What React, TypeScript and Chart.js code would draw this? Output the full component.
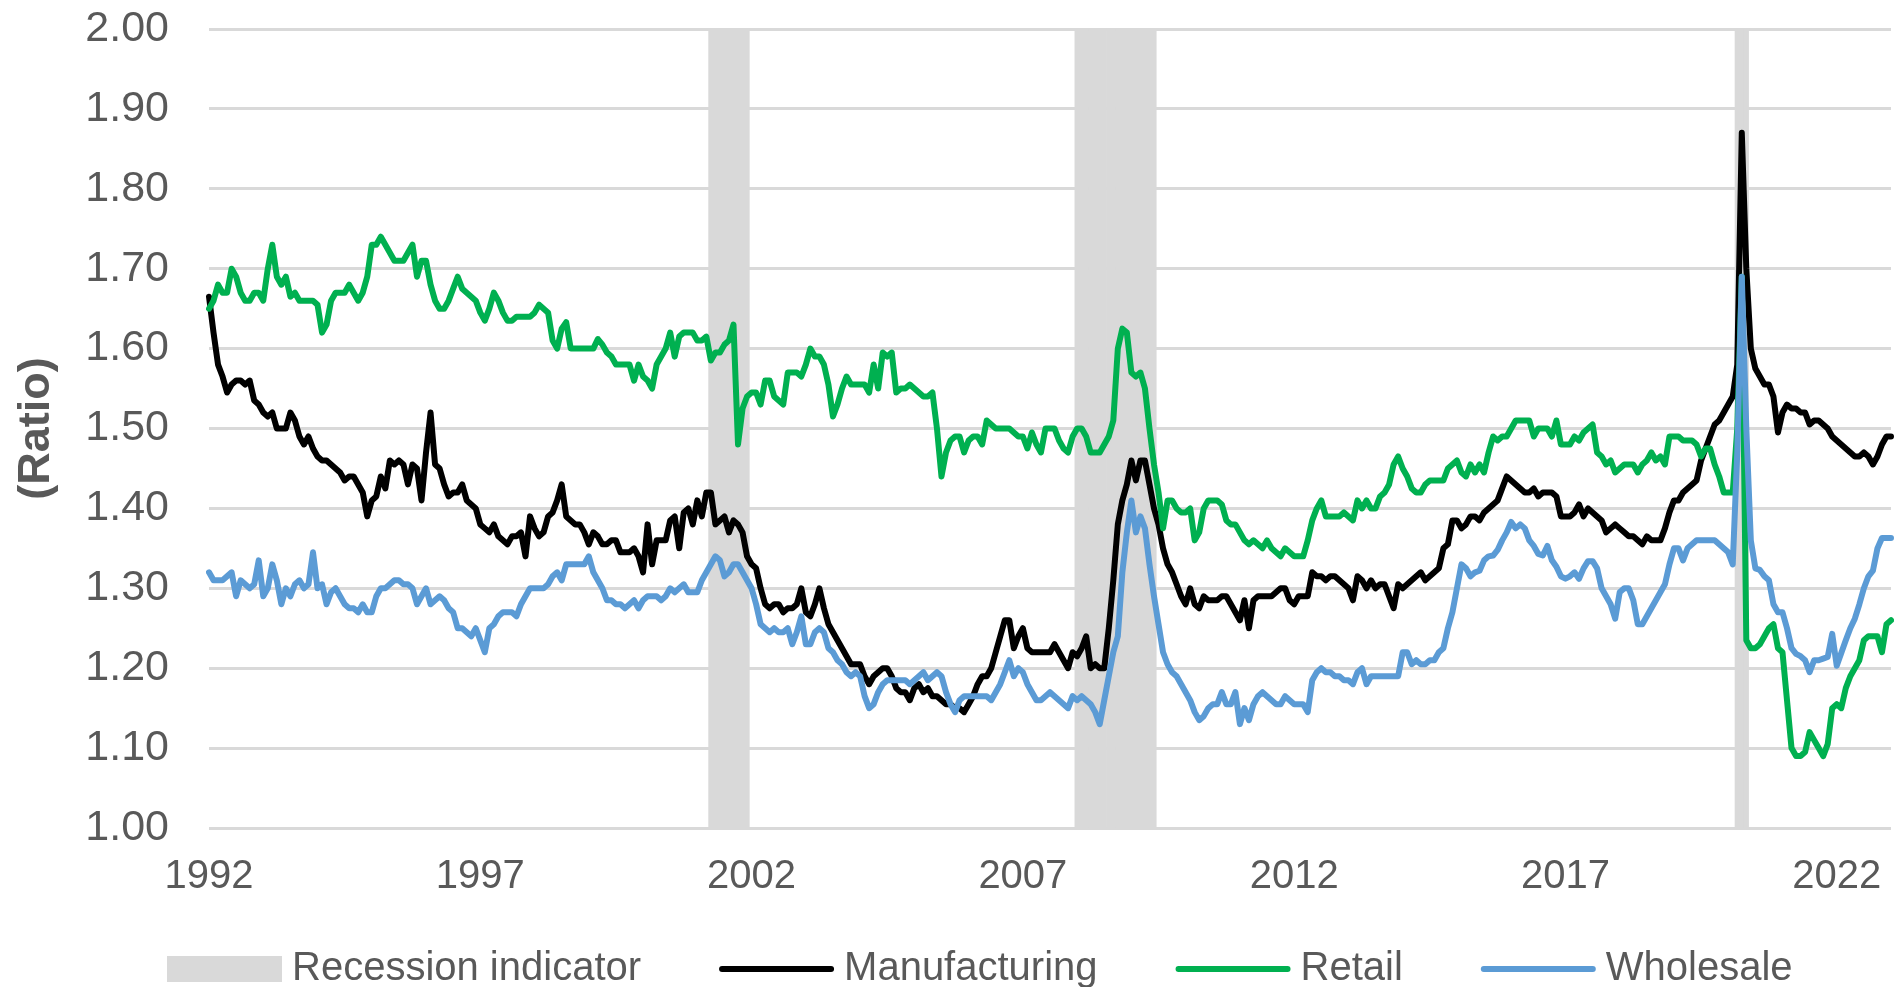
import React, { useEffect, useRef } from 'react';
import { Chart, registerables } from 'chart.js';

Chart.register(...registerables);

const FONT = '"Liberation Sans", Arial, Helvetica, sans-serif';
const TEXT_COLOR = '#595959';

// ---- categories (monthly, Jan 1992 onward) ----
const START_YEAR = 1992;
const MONTH_COUNT = 373;
const categories: string[] = Array.from({ length: MONTH_COUNT }, (_, i) =>
  `${START_YEAR + Math.floor(i / 12)}-${String((i % 12) + 1).padStart(2, '0')}`
);
const xTickLabels = ['1992', '1997', '2002', '2007', '2012', '2017', '2022'];
const TICK_EVERY = 60;
const yTickValues = [1.0, 1.1, 1.2, 1.3, 1.4, 1.5, 1.6, 1.7, 1.8, 1.9, 2.0];

// ---- recession periods (as drawn) ----
const recessionStarts = ['2001-04', '2008-01', '2020-03'];
const recessionEnds = ['2001-12', '2009-06', '2020-05'];
const RECESSION_TOP = 2;

// ---- series ----
const manufacturing = [
  1.665,1.62,1.58,1.565,1.545,1.555,1.56,1.56,1.555,1.56,
  1.535,1.53,1.52,1.515,1.52,1.50,1.50,1.50,1.52,1.51,
  1.49,1.48,1.49,1.475,1.465,1.46,1.46,1.455,1.45,1.445,
  1.435,1.44,1.44,1.43,1.42,1.39,1.41,1.415,1.44,1.425,
  1.46,1.455,1.46,1.455,1.43,1.455,1.45,1.41,1.47,1.52,
  1.455,1.45,1.43,1.415,1.42,1.42,1.43,1.41,1.405,1.40,
  1.38,1.375,1.37,1.38,1.365,1.36,1.355,1.365,1.365,1.37,
  1.34,1.39,1.375,1.365,1.37,1.39,1.395,1.41,1.43,1.39,
  1.385,1.38,1.38,1.37,1.355,1.37,1.365,1.355,1.355,1.36,
  1.36,1.345,1.345,1.345,1.35,1.34,1.32,1.38,1.33,1.36,
  1.36,1.36,1.385,1.39,1.35,1.395,1.40,1.38,1.41,1.39,
  1.42,1.42,1.38,1.385,1.39,1.37,1.385,1.38,1.37,1.34,
  1.33,1.325,1.30,1.28,1.275,1.28,1.28,1.27,1.275,1.275,
  1.28,1.30,1.27,1.265,1.28,1.30,1.275,1.255,1.245,1.235,
  1.225,1.215,1.205,1.205,1.205,1.19,1.18,1.19,1.195,1.20,
  1.20,1.19,1.175,1.17,1.17,1.16,1.175,1.18,1.17,1.175,
  1.165,1.165,1.16,1.155,1.155,1.15,1.15,1.145,1.155,1.165,
  1.18,1.19,1.19,1.20,1.22,1.24,1.26,1.26,1.225,1.24,
  1.25,1.225,1.22,1.22,1.22,1.22,1.22,1.23,1.22,1.21,
  1.20,1.22,1.215,1.225,1.24,1.20,1.205,1.20,1.20,1.25,
  1.31,1.38,1.41,1.43,1.46,1.435,1.46,1.46,1.43,1.40,
  1.38,1.35,1.33,1.32,1.305,1.29,1.28,1.30,1.28,1.275,
  1.29,1.285,1.285,1.285,1.29,1.29,1.28,1.27,1.26,1.285,
  1.25,1.285,1.29,1.29,1.29,1.29,1.295,1.30,1.30,1.285,
  1.28,1.29,1.29,1.29,1.32,1.315,1.315,1.31,1.315,1.315,
  1.31,1.305,1.30,1.285,1.315,1.31,1.30,1.31,1.30,1.305,
  1.305,1.29,1.275,1.305,1.30,1.305,1.31,1.315,1.32,1.31,
  1.315,1.32,1.325,1.35,1.355,1.385,1.385,1.375,1.38,1.39,
  1.39,1.385,1.395,1.40,1.405,1.41,1.425,1.44,1.435,1.43,
  1.425,1.42,1.42,1.425,1.415,1.42,1.42,1.42,1.415,1.39,
  1.39,1.39,1.395,1.405,1.39,1.40,1.395,1.39,1.385,1.37,
  1.375,1.38,1.375,1.37,1.365,1.365,1.36,1.355,1.365,1.36,
  1.36,1.36,1.375,1.395,1.41,1.41,1.42,1.425,1.43,1.435,
  1.46,1.475,1.49,1.505,1.51,1.52,1.53,1.54,1.58,1.87,
  1.70,1.60,1.575,1.565,1.555,1.555,1.54,1.495,1.52,1.53,
  1.525,1.525,1.52,1.52,1.505,1.51,1.51,1.505,1.50,1.49,
  1.485,1.48,1.475,1.47,1.465,1.465,1.47,1.465,1.455,1.465,
  1.48,1.49,1.49,
];

const retail = [
  1.65,1.66,1.68,1.67,1.67,1.70,1.69,1.67,1.66,1.66,
  1.67,1.67,1.66,1.70,1.73,1.69,1.68,1.69,1.665,1.67,
  1.66,1.66,1.66,1.66,1.655,1.62,1.63,1.66,1.67,1.67,
  1.67,1.68,1.67,1.66,1.67,1.69,1.73,1.73,1.74,1.73,
  1.72,1.71,1.71,1.71,1.72,1.73,1.69,1.71,1.71,1.68,
  1.66,1.65,1.65,1.66,1.675,1.69,1.675,1.67,1.665,1.66,
  1.645,1.635,1.65,1.67,1.66,1.645,1.635,1.635,1.64,1.64,
  1.64,1.64,1.645,1.655,1.65,1.645,1.61,1.60,1.625,1.633,
  1.60,1.60,1.60,1.60,1.60,1.60,1.612,1.605,1.595,1.59,
  1.58,1.58,1.58,1.58,1.56,1.58,1.565,1.56,1.55,1.58,
  1.59,1.60,1.62,1.59,1.615,1.62,1.62,1.62,1.61,1.61,
  1.615,1.585,1.595,1.595,1.605,1.61,1.63,1.48,1.525,1.54,
  1.545,1.545,1.53,1.56,1.56,1.54,1.535,1.53,1.57,1.57,
  1.57,1.565,1.58,1.60,1.59,1.59,1.58,1.555,1.515,1.53,
  1.55,1.565,1.555,1.555,1.555,1.555,1.545,1.58,1.55,1.595,
  1.59,1.595,1.545,1.55,1.55,1.555,1.55,1.545,1.54,1.54,
  1.545,1.50,1.44,1.47,1.485,1.49,1.49,1.47,1.485,1.49,
  1.49,1.48,1.51,1.505,1.50,1.50,1.50,1.50,1.495,1.49,
  1.49,1.475,1.495,1.48,1.47,1.50,1.50,1.50,1.485,1.475,
  1.47,1.49,1.50,1.50,1.49,1.47,1.47,1.47,1.48,1.49,
  1.51,1.60,1.625,1.62,1.57,1.565,1.57,1.55,1.50,1.455,
  1.42,1.375,1.41,1.41,1.40,1.395,1.395,1.40,1.36,1.37,
  1.40,1.41,1.41,1.41,1.405,1.385,1.38,1.38,1.37,1.36,
  1.355,1.36,1.355,1.35,1.36,1.35,1.345,1.34,1.35,1.345,
  1.34,1.34,1.34,1.36,1.385,1.40,1.41,1.39,1.39,1.39,
  1.39,1.395,1.39,1.385,1.41,1.40,1.41,1.40,1.40,1.415,
  1.42,1.43,1.455,1.465,1.45,1.44,1.425,1.42,1.42,1.43,
  1.435,1.435,1.435,1.435,1.45,1.455,1.46,1.445,1.44,1.455,
  1.445,1.455,1.445,1.47,1.49,1.485,1.49,1.49,1.50,1.51,
  1.51,1.51,1.51,1.49,1.50,1.50,1.50,1.49,1.51,1.48,
  1.48,1.48,1.49,1.485,1.495,1.50,1.505,1.47,1.465,1.455,
  1.46,1.445,1.45,1.455,1.455,1.455,1.445,1.455,1.46,1.47,
  1.46,1.465,1.455,1.49,1.49,1.49,1.485,1.485,1.485,1.48,
  1.465,1.475,1.475,1.455,1.44,1.42,1.42,1.42,1.50,1.69,
  1.235,1.225,1.225,1.23,1.24,1.25,1.255,1.225,1.22,1.16,
  1.10,1.09,1.09,1.095,1.12,1.11,1.10,1.09,1.105,1.15,
  1.155,1.15,1.175,1.19,1.20,1.21,1.235,1.24,1.24,1.24,
  1.22,1.255,1.26,
];

const wholesale = [
  1.32,1.31,1.31,1.31,1.315,1.32,1.29,1.31,1.305,1.30,
  1.305,1.335,1.29,1.30,1.33,1.31,1.28,1.30,1.29,1.305,
  1.31,1.30,1.305,1.345,1.30,1.305,1.28,1.295,1.30,1.29,
  1.28,1.275,1.275,1.27,1.28,1.27,1.27,1.29,1.30,1.30,
  1.305,1.31,1.31,1.305,1.305,1.30,1.28,1.29,1.30,1.28,
  1.285,1.29,1.285,1.275,1.27,1.25,1.25,1.245,1.24,1.25,
  1.235,1.22,1.25,1.255,1.265,1.27,1.27,1.27,1.265,1.28,
  1.29,1.30,1.30,1.30,1.30,1.305,1.315,1.32,1.31,1.33,
  1.33,1.33,1.33,1.33,1.34,1.32,1.31,1.30,1.285,1.285,
  1.28,1.28,1.275,1.28,1.285,1.275,1.285,1.29,1.29,1.29,
  1.285,1.29,1.30,1.295,1.30,1.305,1.295,1.295,1.295,1.31,
  1.32,1.33,1.34,1.335,1.315,1.32,1.33,1.33,1.32,1.31,
  1.30,1.28,1.255,1.25,1.245,1.25,1.245,1.245,1.25,1.23,
  1.245,1.265,1.23,1.23,1.245,1.25,1.245,1.225,1.22,1.21,
  1.205,1.195,1.19,1.195,1.19,1.165,1.15,1.155,1.17,1.18,
  1.185,1.185,1.185,1.185,1.185,1.18,1.185,1.19,1.195,1.185,
  1.19,1.195,1.19,1.17,1.155,1.145,1.16,1.165,1.165,1.165,
  1.165,1.165,1.165,1.16,1.17,1.18,1.195,1.21,1.19,1.20,
  1.195,1.18,1.17,1.16,1.16,1.165,1.17,1.165,1.16,1.155,
  1.15,1.165,1.16,1.165,1.16,1.155,1.145,1.13,1.16,1.19,
  1.22,1.24,1.32,1.37,1.41,1.37,1.39,1.375,1.33,1.29,
  1.255,1.22,1.205,1.195,1.19,1.18,1.17,1.16,1.145,1.135,
  1.14,1.15,1.155,1.155,1.17,1.155,1.155,1.17,1.13,1.15,
  1.135,1.155,1.165,1.17,1.165,1.16,1.155,1.155,1.165,1.16,
  1.155,1.155,1.155,1.145,1.185,1.195,1.20,1.195,1.195,1.19,
  1.19,1.185,1.185,1.18,1.195,1.20,1.18,1.19,1.19,1.19,
  1.19,1.19,1.19,1.19,1.22,1.22,1.205,1.21,1.205,1.205,
  1.21,1.21,1.22,1.225,1.25,1.27,1.30,1.33,1.325,1.315,
  1.32,1.322,1.335,1.34,1.341,1.348,1.36,1.37,1.383,1.375,
  1.38,1.375,1.36,1.353,1.343,1.341,1.353,1.335,1.327,1.315,
  1.312,1.315,1.32,1.312,1.325,1.334,1.334,1.325,1.30,1.29,
  1.28,1.262,1.295,1.30,1.30,1.285,1.255,1.255,1.265,1.275,
  1.285,1.295,1.305,1.33,1.35,1.35,1.335,1.35,1.355,1.36,
  1.36,1.36,1.36,1.36,1.355,1.35,1.345,1.33,1.47,1.69,
  1.50,1.36,1.325,1.323,1.315,1.31,1.28,1.27,1.27,1.25,
  1.225,1.218,1.215,1.21,1.195,1.21,1.21,1.212,1.214,1.243,
  1.203,1.219,1.235,1.25,1.262,1.28,1.30,1.315,1.322,1.35,
  1.363,1.363,1.363,
];

const recessionFlags = categories.map((c) =>
  recessionStarts.some((s, k) => c >= s && c <= recessionEnds[k]) ? RECESSION_TOP : null
);

const bottomLegend = {
  id: 'bottomLegend',
  afterDraw(chart: any, _args: any, opts: any) {
    const { ctx } = chart;
    ctx.save();
    ctx.font = `${opts.fontSize}px ${FONT}`;
    ctx.textBaseline = 'middle';
    ctx.textAlign = 'left';
    let x = opts.startX;
    const y = opts.y;
    chart.data.datasets.forEach((ds: any) => {
      if (ds.type === 'bar') {
        ctx.fillStyle = ds.backgroundColor;
        ctx.fillRect(x, y - opts.boxHeight / 2, opts.symbolWidth, opts.boxHeight);
      } else {
        ctx.strokeStyle = ds.borderColor;
        ctx.lineWidth = opts.lineWidth;
        ctx.lineCap = 'round';
        ctx.beginPath();
        ctx.moveTo(x + 3, y);
        ctx.lineTo(x + opts.symbolWidth - 3, y);
        ctx.stroke();
      }
      ctx.fillStyle = TEXT_COLOR;
      const tx = x + opts.symbolWidth + opts.gap;
      ctx.fillText(ds.label, tx, y);
      x = tx + ctx.measureText(ds.label).width + opts.itemGap;
    });
    ctx.restore();
  },
};

const LINE_WIDTH = 6;

export default function App() {
  const canvasRef = useRef<HTMLCanvasElement>(null);

  useEffect(() => {
    const canvas = canvasRef.current;
    if (!canvas) return;
    const lineStyle = {
      borderWidth: LINE_WIDTH,
      pointRadius: 0,
      tension: 0,
      borderJoinStyle: 'round',
      borderCapStyle: 'round',
    };
    const chart = new Chart(canvas, {
      type: 'line',
      data: {
        labels: categories,
        datasets: [
          {
            type: 'bar',
            label: 'Recession indicator',
            data: recessionFlags as any,
            backgroundColor: '#d9d9d9',
            borderWidth: 0,
            barPercentage: 1,
            categoryPercentage: 1,
            order: 4,
          } as any,
          {
            type: 'line',
            label: 'Manufacturing',
            data: manufacturing,
            borderColor: '#000000',
            backgroundColor: '#000000',
            ...lineStyle,
            order: 3,
          } as any,
          {
            type: 'line',
            label: 'Retail',
            data: retail,
            borderColor: '#00b050',
            backgroundColor: '#00b050',
            ...lineStyle,
            order: 2,
          } as any,
          {
            type: 'line',
            label: 'Wholesale',
            data: wholesale,
            borderColor: '#5b9bd5',
            backgroundColor: '#5b9bd5',
            ...lineStyle,
            order: 1,
          } as any,
        ],
      },
      options: {
        responsive: false,
        maintainAspectRatio: false,
        animation: false,
        events: [],
        layout: { padding: { top: 29, right: 4, bottom: 99, left: 0 } },
        scales: {
          x: {
            type: 'category',
            offset: false,
            grid: { display: false, offset: false, drawTicks: false },
            border: { display: false },
            ticks: {
              autoSkip: false,
              maxRotation: 0,
              minRotation: 0,
              padding: 25,
              color: TEXT_COLOR,
              font: { family: FONT, size: 40 },
              callback: (_v: any, i: number) =>
                i % TICK_EVERY === 0 ? xTickLabels[i / TICK_EVERY] ?? '' : '',
            },
            afterFit: (scale: any) => {
              scale.height = 60;
              scale.paddingLeft = 0;
              scale.paddingRight = 0;
            },
          },
          y: {
            min: yTickValues[0],
            max: yTickValues[yTickValues.length - 1],
            grid: { color: '#d9d9d9', lineWidth: 3, drawTicks: false },
            border: { display: false },
            afterBuildTicks: (scale: any) => {
              scale.ticks = yTickValues.map((v) => ({ value: v }));
            },
            ticks: {
              autoSkip: false,
              padding: 40,
              color: TEXT_COLOR,
              font: { family: FONT, size: 43 },
              callback: (v: any) => Number(v).toFixed(2),
            },
            title: {
              display: true,
              text: '(Ratio)',
              color: TEXT_COLOR,
              font: { family: FONT, size: 45, weight: 'bold' },
              padding: { top: 10, bottom: 0 },
            },
            afterFit: (scale: any) => {
              scale.width = 209;
              scale.paddingTop = 0;
              scale.paddingBottom = 0;
            },
          },
        },
        plugins: {
          legend: { display: false },
          tooltip: { enabled: false },
          bottomLegend: {
            startX: 167,
            y: 969,
            fontSize: 40,
            symbolWidth: 115,
            boxHeight: 26,
            lineWidth: 6,
            gap: 10,
            itemGap: 78,
          },
        } as any,
      },
      plugins: [bottomLegend],
    });
    return () => chart.destroy();
  }, []);

  return (
    <div style={{ position: 'fixed', left: 0, top: 0, width: 1895, height: 987, background: '#ffffff' }}>
      <canvas ref={canvasRef} width={1895} height={987} style={{ display: 'block', width: 1895, height: 987 }} />
    </div>
  );
}
